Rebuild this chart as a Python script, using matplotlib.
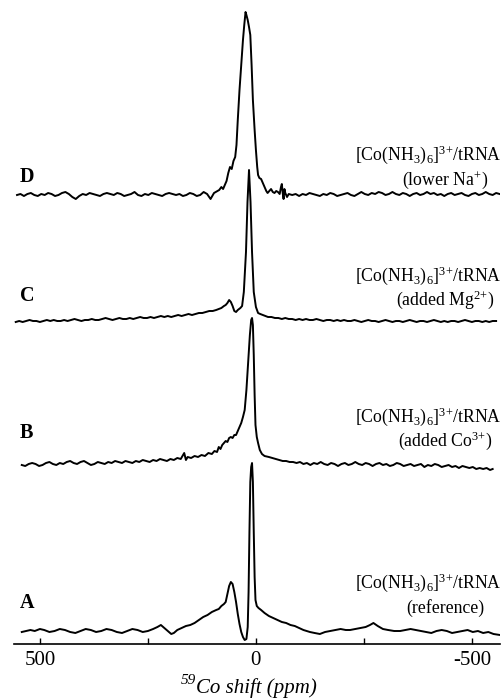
import matplotlib
matplotlib.use("Agg")
import matplotlib.pyplot as plt

plt.rcParams['font.family'] = ['Liberation Serif', 'DejaVu Serif']
plt.rcParams['mathtext.fontset'] = 'custom'
plt.rcParams['mathtext.rm'] = 'Liberation Serif'
plt.rcParams['mathtext.it'] = 'Liberation Serif:italic'
plt.rcParams['mathtext.bf'] = 'Liberation Serif:bold'

# ---- data: (ppm, intensity) pairs, intensity in arbitrary units above each trace baseline
D_points = [(553,0),(545,1),(537,-1),(529,1),(521,2),(513,0),(505,-1),(497,1),(489,0),(481,2),(473,1),(465,-1),
            (457,0),(449,2),(441,3),(433,1),(425,-2),(417,-4),(409,-1),(401,1),(393,0),(385,2),(377,1),(369,0),
            (361,-1),(353,1),(345,2),(337,1),(329,0),(321,2),(313,1),(305,-1),(297,0),(289,1),(281,3),(273,0),
            (265,-1),(257,1),(249,0),(241,2),(233,1),(225,0),(217,-1),(209,1),(201,2),(193,1),(185,0),(177,1),
            (169,-1),(161,0),(153,2),(145,1),(137,-1),(129,0),(121,3),(113,1),(105,-4),(97,2),(89,4),
            (85,5),(80,8),(76,6),(72,10),(68,14),(64,22),(60,28),(56,26),(52,34),(48,38),(45,50),(42,75),
            (38,105),(34,130),(30,155),(27,170),(24,183),(22,180),(19,175),(16,168),(13,160),(10,130),(7,95),
            (3,65),(0,45),(-3,28),(-5,20),(-8,17),(-12,16),(-16,12),(-20,8),(-24,4),(-27,2),(-31,4),(-35,6),
            (-39,3),(-43,2),(-47,4),(-51,3),(-55,1),(-58,8),(-60,11),(-62,2),(-64,-4),(-66,6),(-68,2),(-72,-2),
            (-76,1),(-84,0),(-92,1),(-100,-1),(-108,1),(-116,0),(-124,2),(-132,1),(-140,0),(-148,-1),(-156,1),
            (-164,0),(-172,2),(-180,1),(-188,-1),(-196,0),(-204,1),(-212,2),(-220,0),(-228,-1),(-236,1),(-244,3),
            (-252,1),(-260,0),(-268,2),(-276,1),(-284,3),(-292,2),(-300,0),(-308,1),(-316,3),(-324,1),(-332,0),
            (-340,2),(-348,1),(-356,-1),(-364,1),(-372,2),(-380,0),(-388,1),(-396,3),(-404,1),(-412,2),(-420,0),
            (-428,1),(-436,-1),(-444,1),(-452,2),(-460,0),(-468,1),(-476,2),(-484,0),(-492,-1),(-500,1),(-508,2),
            (-516,0),(-524,1),(-532,3),(-540,1),(-548,0),(-556,2),(-564,1)]

C_points = [(556,0),(548,1),(540,0),(532,1),(524,2),(516,1),(508,1),(500,0),(492,1),(484,2),(476,1),(468,2),
            (460,1),(452,1),(444,2),(436,1),(428,2),(420,3),(412,2),(404,1),(396,2),(388,2),(380,3),(372,2),
            (364,2),(356,3),(348,4),(340,3),(332,2),(324,3),(316,4),(308,3),(300,3),(292,4),(284,3),(276,4),
            (268,5),(260,4),(252,4),(244,5),(236,4),(228,5),(220,6),(212,5),(204,6),(196,5),(188,6),(180,7),
            (172,6),(164,7),(156,8),(148,7),(140,8),(132,9),(124,9),(116,10),(108,11),(100,11),(92,12),(86,13),
            (80,14),(74,16),(70,17),(66,19),(62,22),(58,20),(54,16),(50,11),(46,10),(42,12),(36,14),(32,16),
            (28,30),(23,70),(19.5,120),(16,152),(12.5,120),(9,70),(5,30),(0,15),(-5,9),(-10,8),(-16,7),(-22,6),
            (-28,5),(-36,5),(-44,4),(-52,4),(-60,3),(-68,4),(-76,3),(-84,3),(-92,2),(-100,3),(-108,2),(-116,3),
            (-124,2),(-132,2),(-140,3),(-148,2),(-156,1),(-164,2),(-172,2),(-180,1),(-188,2),(-196,1),(-204,2),
            (-212,1),(-220,1),(-228,2),(-236,1),(-244,0),(-252,1),(-260,2),(-268,1),(-276,1),(-284,0),(-292,1),
            (-300,2),(-308,1),(-316,0),(-324,1),(-332,1),(-340,0),(-348,1),(-356,2),(-364,1),(-372,0),(-380,1),
            (-388,1),(-396,0),(-404,1),(-412,2),(-420,1),(-428,0),(-436,1),(-444,0),(-452,1),(-460,1),(-468,0),
            (-476,1),(-484,2),(-492,1),(-500,0),(-508,1),(-516,1),(-524,0),(-532,1),(-540,0),(-548,1),(-556,1)]

B_points = [(542,0),(534,-1),(526,1),(518,2),(510,1),(502,-1),(494,0),(486,2),(478,3),(470,1),(462,0),(454,2),
            (446,1),(438,3),(430,4),(422,2),(414,1),(406,3),(398,4),(390,2),(382,0),(374,1),(366,3),(358,2),
            (350,1),(342,3),(334,2),(326,4),(318,3),(310,2),(302,4),(294,3),(286,2),(278,4),(270,3),(262,5),
            (254,4),(246,3),(238,5),(230,4),(222,6),(214,5),(206,4),(198,6),(190,5),(182,7),(174,6),(166,12),
            (162,5),(158,8),(150,7),(142,9),(134,8),(126,10),(118,9),(110,12),(102,11),(96,14),(90,13),(86,18),
            (82,16),(78,20),(74,22),(70,24),(66,23),(62,27),(58,28),(54,27),(50,30),(46,30),(42,34),(38,38),
            (34,42),(30,48),(26,55),(22,75),(18,102),(14,130),(11,145),(9,147),(7,140),(5,110),(3,70),(1,40),
            (-2,28),(-5,22),(-9,15),(-14,11),(-20,9),(-30,8),(-38,7),(-46,6),(-54,5),(-62,4),(-70,4),(-78,3),
            (-86,3),(-94,2),(-102,3),(-110,1),(-118,2),(-126,0),(-134,2),(-142,1),(-150,3),(-158,1),(-166,0),
            (-174,2),(-182,1),(-190,-1),(-198,1),(-206,2),(-214,0),(-222,1),(-230,3),(-238,1),(-246,0),(-254,2),
            (-262,1),(-270,-1),(-278,1),(-286,2),(-294,0),(-302,1),(-310,-1),(-318,0),(-326,2),(-334,1),(-342,-1),
            (-350,0),(-358,1),(-366,-1),(-374,0),(-382,1),(-390,-2),(-398,0),(-406,-1),(-414,1),(-422,0),(-430,-2),
            (-438,-1),(-446,0),(-454,-2),(-462,-1),(-470,-3),(-478,-1),(-486,-2),(-494,-3),(-502,-2),(-510,-4),
            (-518,-3),(-526,-4),(-534,-3),(-542,-5),(-548,-4)]

A_points = [(542,0),(532,1),(522,2),(512,1),(500,3),(490,2),(478,0),(466,1),(454,3),(442,2),(430,0),(418,-1),
            (406,1),(394,3),(382,2),(370,0),(358,1),(346,3),(334,2),(322,0),(310,-1),(298,1),(286,3),(274,2),
            (262,0),(250,1),(238,3),(228,5),(220,7),(212,4),(204,1),(196,-2),(190,-1),(182,2),(172,4),(162,6),
            (152,7),(142,9),(132,12),(122,15),(112,17),(102,20),(92,22),(86,23),(80,26),(74,28),(70,30),(66,38),
            (62,46),(58,50),(54,48),(50,40),(46,30),(42,18),(38,8),(34,0),(30,-5),(26,-8),(22,-7),(19,5),(17,40),
            (15,100),(13,150),(11,165),(9,169),(7,150),(5,100),(3,55),(1,32),(-2,26),(-6,24),(-12,22),(-20,19),
            (-30,16),(-40,14),(-50,12),(-60,10),(-70,9),(-80,7),(-90,6),(-100,4),(-110,2),(-125,0),(-136,-1),
            (-148,-2),(-160,0),(-172,1),(-184,2),(-196,3),(-208,2),(-218,2),(-230,3),(-242,4),(-254,5),(-264,7),
            (-272,9),(-282,6),(-294,3),(-306,2),(-320,1),(-334,1),(-346,2),(-358,3),(-370,2),(-382,1),(-394,0),
            (-406,-1),(-418,1),(-430,2),(-442,1),(-454,-1),(-466,0),(-478,1),(-490,2),(-502,0),(-514,1),(-526,-1),
            (-538,0),(-550,-2),(-565,-3)]

trace_names = ['D', 'C', 'B', 'A']
trace_data = [D_points, C_points, B_points, A_points]
line1 = r'[Co(NH$_{\mathrm{3}}$)$_{\mathrm{6}}$]$^{\mathrm{3{+}}}$/tRNA'
line2 = [r'(lower Na$^{\mathrm{{+}}}$)', r'(added Mg$^{\mathrm{2{+}}}$)',
         r'(added Co$^{\mathrm{3{+}}}$)', '(reference)']
tick_values = [500, 250, 0, -250, -500]
tick_labels = ['500', '', '0', '', '-500']
xlabel_sup = '59'
xlabel_main = 'Co shift (ppm)'

# ---- layout (not data)
offsets = [449, 322, 179, 12]
label_y = [467, 348, 211, 41]
text1_y = [489, 368, 227, 61]
text2_y = [464, 344, 203, 36]

W, H = 504, 698
fig = plt.figure(figsize=(W/100, H/100), dpi=100)
ax = fig.add_axes([14/W, (H-644)/H, 486/W, 644/H])
ax.set_xlim(560, -565)
ax.set_ylim(0, 644)

for name, pts, off, ly, t1, t2, l2 in zip(trace_names, trace_data, offsets, label_y, text1_y, text2_y, line2):
    xs = [p[0] for p in pts]
    ys = [p[1] + off for p in pts]
    ax.plot(xs, ys, color='black', lw=1.4, solid_joinstyle='round')
    ax.text(546, ly, name, fontsize=14.5, fontweight='bold', ha='left', va='center')
    ax.text(-570, t1, line1, fontsize=12.8, ha='right', va='center')
    ax.text(-438, t2, l2, fontsize=12.8, ha='center', va='center')

for s in ['top', 'left', 'right']:
    ax.spines[s].set_visible(False)
ax.spines['bottom'].set_linewidth(1.2)
ax.set_yticks([])
ax.set_xticks(tick_values)
ax.set_xticklabels(tick_labels, fontsize=15)
ax.tick_params(axis='x', direction='in', length=4, width=1, pad=5)

fig.text(196/W, 1-688/H, xlabel_main, fontsize=15, style='italic', ha='left', va='center')
fig.text(196/W, 1-680/H, xlabel_sup, fontsize=11, style='italic', ha='right', va='center')

fig.savefig('out.png', dpi=100)
